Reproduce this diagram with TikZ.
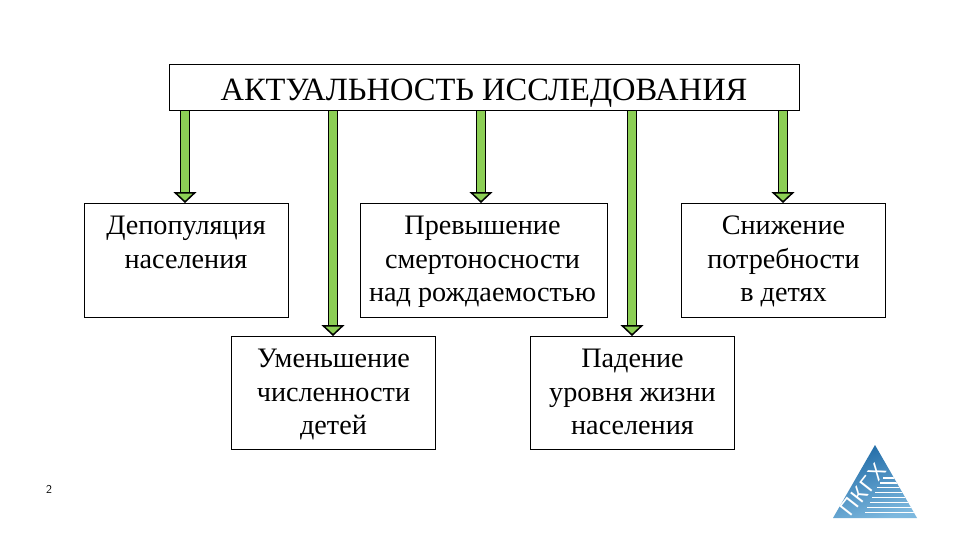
\documentclass[tikz,border=0pt]{standalone}
\usepackage{fontspec}
\setmainfont{Liberation Serif}
\newfontfamily\logofont[LetterSpace=6]{Liberation Sans}
\usetikzlibrary{arrows.meta}
\definecolor{arrowgreen}{HTML}{8CCF55}
\definecolor{logodark}{HTML}{1F6AA6}
\definecolor{logolight}{HTML}{7DB8DE}
\tikzset{
  x=1pt,y=-1pt,
  titlebox/.style={draw=black,line width=1pt,fill=white,inner sep=0pt,minimum width=630pt,minimum height=46pt,font=\fontsize{32.5}{36}\selectfont},
  textbox/.style={draw=black,line width=1pt,fill=white,inner sep=0pt,font=\fontsize{28.2}{33.5}\selectfont},
  blockarrow/.style={line width=7.5pt,draw=arrowgreen,
    preaction={draw=black,line width=10.5pt,-,shorten >=9pt},
    -{Triangle[length=11pt,width=23pt,fill=arrowgreen,color=black,line width=1.5pt]}},
}
\newcommand{\boxtext}[3]{\parbox[c][#2pt][t]{#1pt}{\centering\rule{0pt}{31pt}#3\par}}
\begin{document}
\begin{tikzpicture}
\useasboundingbox (0,0) rectangle (960,540);
\fill[white] (0,0) rectangle (960,540);
\node[titlebox] (title) at (484,88) {\smash{\raisebox{-13pt}{АКТУАЛЬНОСТЬ ИССЛЕДОВАНИЯ}}};
\node[textbox,anchor=north west] (dep) at (84,203) {\boxtext{204}{114}{\hspace*{-1pt}Депопуляция\\\hspace*{-1pt}населения}};
\node[textbox,anchor=north west] (prev) at (360,203) {\boxtext{247}{114}{\hspace*{-3pt}Превышение\\\hspace*{-3pt}смертоносности\\\hspace*{-3pt}над рождаемостью}};
\node[textbox,anchor=north west] (sniz) at (681,203) {\boxtext{204}{114}{Снижение\\потребности\\в детях}};
\node[textbox,anchor=north west] (umen) at (231,336) {\boxtext{204}{113}{Уменьшение\\численности\\детей}};
\node[textbox,anchor=north west] (pad) at (530,336) {\boxtext{204}{113}{Падение\\уровня жизни\\населения}};
\coordinate (a1) at (185,111);
\coordinate (a2) at (333,111);
\coordinate (a3) at (481,111);
\coordinate (a4) at (632,111);
\coordinate (a5) at (783,111);
\draw[blockarrow] (a1) -- (a1 |- dep.north);
\draw[blockarrow] (a2) -- (a2 |- umen.north);
\draw[blockarrow] (a3) -- (a3 |- prev.north);
\draw[blockarrow] (a4) -- (a4 |- pad.north);
\draw[blockarrow] (a5) -- (a5 |- sniz.north);
\node[font=\sffamily\fontsize{12}{14}\selectfont] (num) at (49,489) {2};
% logo
\begin{scope}
\clip (875,445) -- (917,518) -- (833,518) -- cycle;
\shade[left color=logodark,right color=logolight,shading angle=20] (833,445) rectangle (917,518);
\foreach \yy/\xx in {478/883,483/880,487.5/877,492.5/875,497.5/872,502.5/870,507.5/867,512.5/865}
  \fill[white] (\xx,\yy-0.8) rectangle (917,\yy+0.8);
\end{scope}
\node[font=\logofont\fontsize{22}{22}\selectfont,text=white,rotate=52,inner sep=0pt] (logo) at (863,490) {ПКГХ};
\end{tikzpicture}
\end{document}
